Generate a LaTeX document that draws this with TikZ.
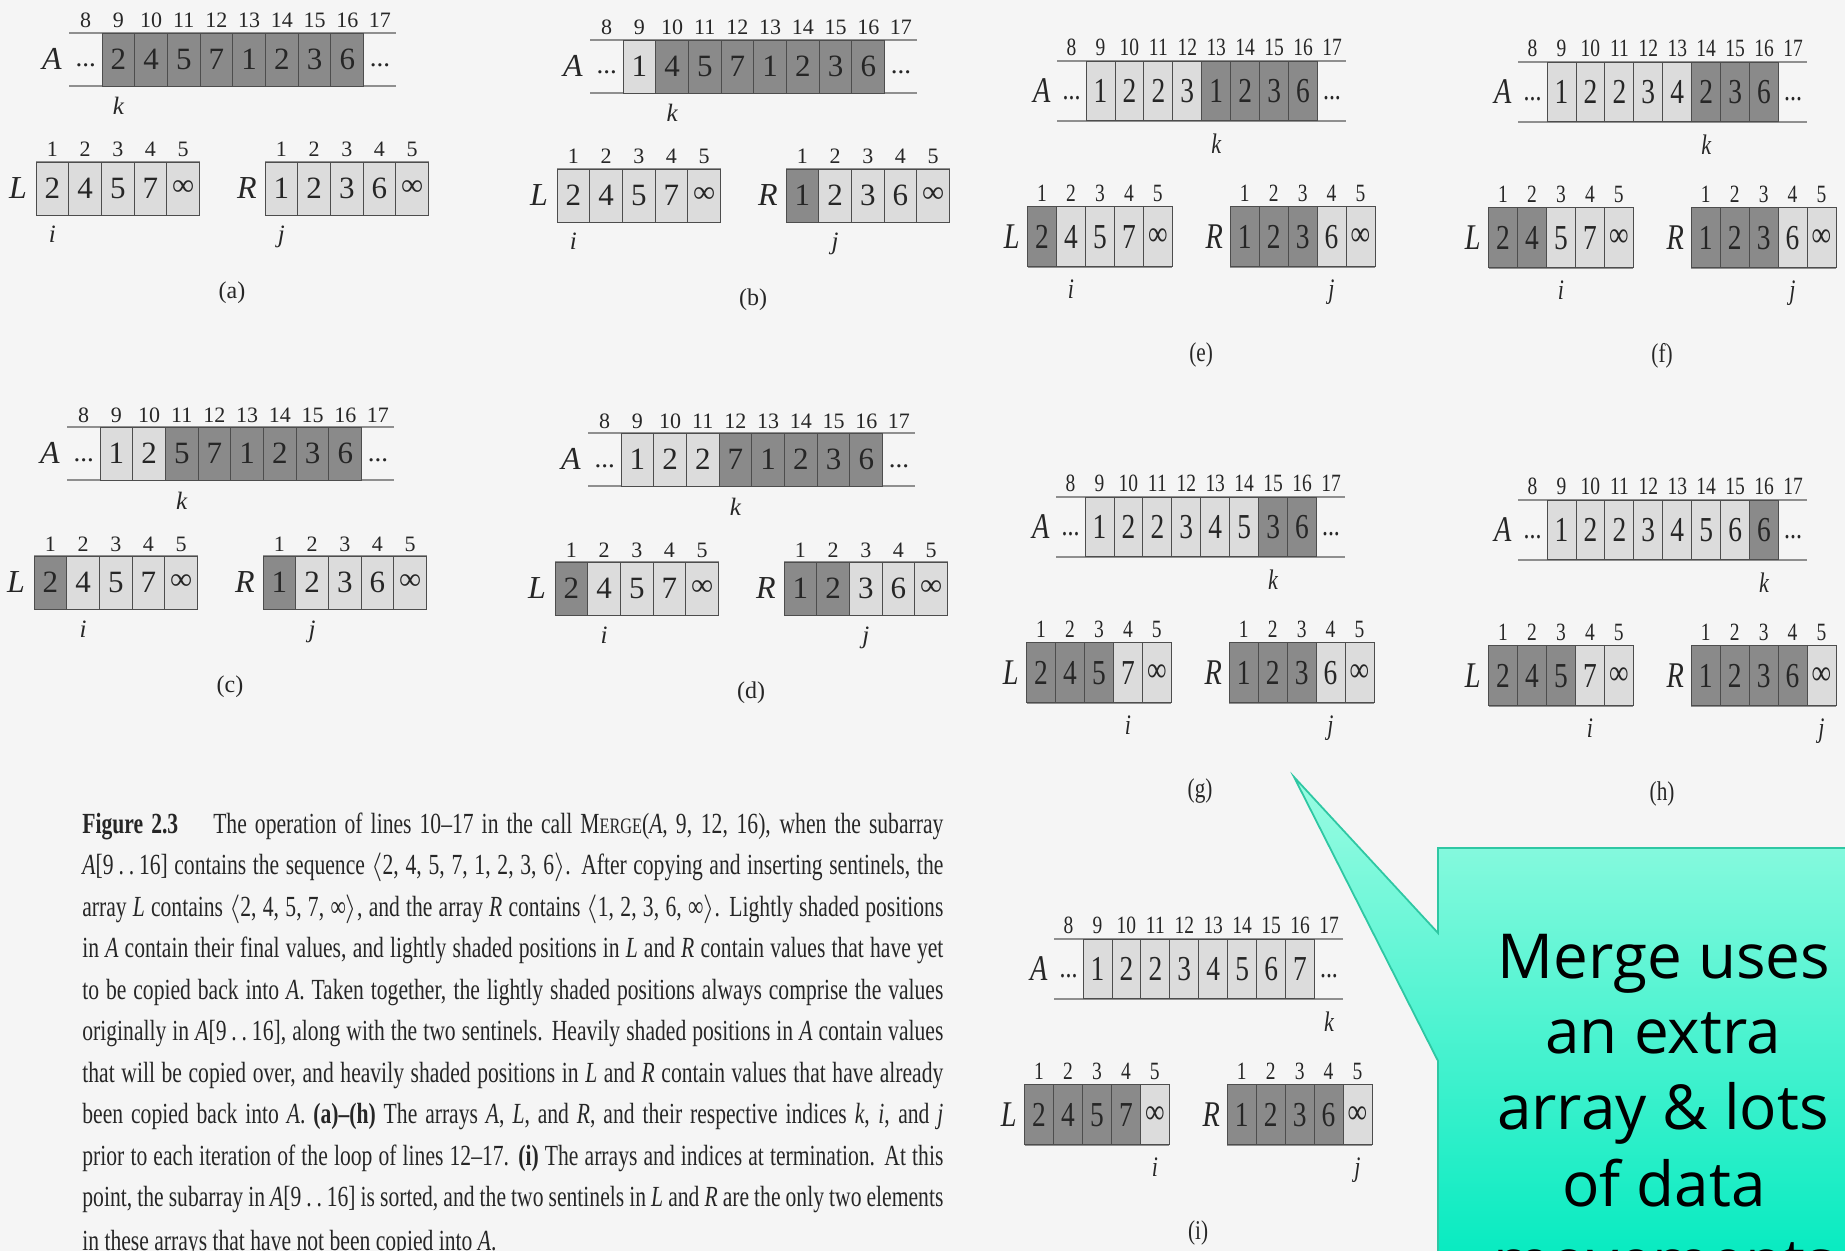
\documentclass[tikz,border=0pt]{standalone}
\usepackage{fontspec}
\setmainfont{Liberation Serif}
\newfontfamily\capfont[FakeStretch=0.74]{Liberation Serif}
\newfontfamily\bubblefont{Open Sans}
\definecolor{bgc}{HTML}{F5F5F5}
\definecolor{darkc}{HTML}{8A8A8A}
\definecolor{lightc}{HTML}{DCDCDC}
\definecolor{edgec}{HTML}{4D4D4D}
\definecolor{railc}{HTML}{8F8F8F}
\definecolor{inkc}{HTML}{262626}
\definecolor{calltop}{HTML}{9AFCE2}
\definecolor{callbot}{HTML}{00EABF}
\definecolor{calledge}{HTML}{2FC7A3}
\tikzset{
 cellbox/.style={draw=edgec, line width=0.45pt, minimum width=16.35pt, minimum height=26.5pt, inner sep=0pt, text=inkc, font=\fontsize{15.5}{16}\selectfont},
 idxnum/.style={inner sep=0pt, anchor=base, text=inkc, font=\fontsize{11}{11}\selectfont},
 arrname/.style={inner sep=0pt, text=inkc, font=\fontsize{16}{16}\selectfont\itshape},
 ptr/.style={inner sep=0pt, anchor=base, text=inkc, font=\fontsize{12.5}{13}\selectfont\itshape},
 dotsl/.style={inner sep=0pt, anchor=base, text=inkc, font=\fontsize{13.5}{14}\selectfont},
 plabel/.style={inner sep=0pt, text=inkc, font=\fontsize{12}{12}\selectfont},
 rail/.style={draw=railc, line width=1.1pt},
 capline/.style={inner sep=0pt, anchor=base west, text=inkc, font=\capfont\fontsize{14.6}{15}\selectfont},
 callout/.style={draw=calledge, line width=0.9pt, top color=calltop, bottom color=callbot},
 bubbletext/.style={inner sep=0pt, anchor=base, text=black, font=\bubblefont\fontsize{31}{31}\selectfont},
}
% #1 name, #2 origin, #3 xscale, #4 yscale, #5 A values, #6 light count in A, #7 dark in L, #8 dark in R
\newcommand\mkpanel[8]{%
\begin{scope}[shift={(#2)}, xscale=#3, yscale=#4, transform shape]
 \draw[rail] (-32.7,0) -- (294.3,0);
 \draw[rail] (-32.7,53) -- (294.3,53);
 \draw[rail] (-66,129) -- (97.5,129);
 \draw[rail] (-66,182) -- (97.5,182);
 \draw[rail] (163,129) -- (326.5,129);
 \draw[rail] (163,182) -- (326.5,182);
 \foreach \v [count=\c] in {#5} {
   \ifnum\c>#6\relax\def\fc{darkc}\else\def\fc{lightc}\fi
   \node[cellbox, fill=\fc] (#1A\c) at ({(\c-0.5)*32.7},26.5) {\v};
 }
 \foreach \v [count=\c] in {2,4,5,7,∞} {
   \ifnum\c>#7\relax\def\fc{lightc}\else\def\fc{darkc}\fi
   \node[cellbox, fill=\fc] (#1L\c) at ({-66+(\c-0.5)*32.7},155.5) {\v};
 }
 \foreach \v [count=\c] in {1,2,3,6,∞} {
   \ifnum\c>#8\relax\def\fc{lightc}\else\def\fc{darkc}\fi
   \node[cellbox, fill=\fc] (#1R\c) at ({163+(\c-0.5)*32.7},155.5) {\v};
 }
 \foreach \n [count=\c] in {8,...,17} {
   \node[idxnum] (#1Ai\c) at ({(\c-1.5)*32.7},-5) {\n};
 }
 \foreach \c in {1,...,5} {
   \node[idxnum] (#1Li\c) at ({-66+(\c-0.5)*32.7},124) {\c};
   \node[idxnum] (#1Ri\c) at ({163+(\c-0.5)*32.7},124) {\c};
 }
 \node[arrname] (#1An) at (-50,26) {A};
 \node[arrname] (#1Ln) at (-84,155.5) {L};
 \node[arrname] (#1Rn) at (145,155.5) {R};
 \node[dotsl] (#1dl) at (-16.35,34) {...};
 \node[dotsl] (#1dr) at (277.95,34) {...};
 \node[ptr] (#1k) at ({(#6+0.5)*32.7},82) {k};
 \node[ptr] (#1i) at ({-66+(#7+0.5)*32.7},210) {i};
 \node[ptr] (#1j) at ({163+(#8+0.5)*32.7},210) {j};
 \node[plabel] (#1lab) at (130,260) {(#1)};
\end{scope}}
\newcommand\capl[1]{\hbox to 430.5pt{#1}}
\begin{document}
\begin{tikzpicture}[x=0.5pt,y=-0.5pt]
\useasboundingbox (0,0) rectangle (1845,1251);
\fill[bgc] (0,0) rectangle (1845,1251);
\clip (0,0) rectangle (1845,1251);

\mkpanel{a}{102,33}{1}{1}{2,4,5,7,1,2,3,6}{0}{0}{0}
\mkpanel{b}{623,40}{1}{1}{1,4,5,7,1,2,3,6}{1}{0}{1}
\mkpanel{c}{100,427}{1}{1}{1,2,5,7,1,2,3,6}{2}{1}{1}
\mkpanel{d}{621,433}{1}{1}{1,2,2,7,1,2,3,6}{3}{1}{2}
\mkpanel{e}{1086,61}{0.885}{1.13}{1,2,2,3,1,2,3,6}{4}{1}{3}
\mkpanel{f}{1547,62}{0.885}{1.13}{1,2,2,3,4,2,3,6}{5}{2}{3}
\mkpanel{g}{1085,497}{0.885}{1.13}{1,2,2,3,4,5,3,6}{6}{3}{3}
\mkpanel{h}{1547,500}{0.885}{1.13}{1,2,2,3,4,5,6,6}{7}{3}{4}
\mkpanel{i}{1083,939}{0.885}{1.13}{1,2,2,3,4,5,6,7}{8}{4}{4}

% caption
\node[capline] (cap1) at (82,833) {\capl{\textbf{Figure 2.3}\hskip 0.9em plus 0.3em The operation of lines 10–17 in the call M{\fontsize{11}{11}\selectfont ERGE}(\textit{A}, 9, 12, 16), when the subarray}};
\node[capline] (cap2) at (82,874.5) {\capl{\textit{A}[9\,.\,.\,16] contains the sequence $\langle$2, 4, 5, 7, 1, 2, 3, 6$\rangle$. After copying and inserting sentinels, the}};
\node[capline] (cap3) at (82,916) {\capl{array \textit{L} contains $\langle$2, 4, 5, 7, ∞$\rangle$, and the array \textit{R} contains $\langle$1, 2, 3, 6, ∞$\rangle$. Lightly shaded positions}};
\node[capline] (cap4) at (82,957.5) {\capl{in \textit{A} contain their final values, and lightly shaded positions in \textit{L} and \textit{R} contain values that have yet}};
\node[capline] (cap5) at (82,999) {\capl{to be copied back into \textit{A}. Taken together, the lightly shaded positions always comprise the values}};
\node[capline] (cap6) at (82,1040.5) {\capl{originally in \textit{A}[9\,.\,.\,16], along with the two sentinels. Heavily shaded positions in \textit{A} contain values}};
\node[capline] (cap7) at (82,1082) {\capl{that will be copied over, and heavily shaded positions in \textit{L} and \textit{R} contain values that have already}};
\node[capline] (cap8) at (82,1123.5) {\capl{been copied back into \textit{A}. \textbf{(a)–(h)} The arrays \textit{A}, \textit{L}, and \textit{R}, and their respective indices \textit{k}, \textit{i}, and \textit{j}}};
\node[capline] (cap9) at (82,1165) {\capl{prior to each iteration of the loop of lines 12–17. \textbf{(i)} The arrays and indices at termination. At this}};
\node[capline] (cap10) at (82,1206.5) {\capl{point, the subarray in \textit{A}[9\,.\,.\,16] is sorted, and the two sentinels in \textit{L} and \textit{R} are the only two elements}};
\node[capline] (cap11) at (82,1250) {in these arrays that have not been copied into \textit{A}.};

% callout
\path[callout] (1438,848) -- (1870,848) -- (1870,1280) -- (1438,1280) -- (1438,1061) -- (1294,777) -- (1438,933) -- cycle;
\node[bubbletext] (m1) at (1664,978) {Merge uses};
\node[bubbletext] (m2) at (1663,1053) {an extra};
\node[bubbletext] (m3) at (1663,1129) {array \& lots};
\node[bubbletext] (m4) at (1664,1206) {of data};
\node[bubbletext] (m5) at (1664,1283) {movements};
\end{tikzpicture}
\end{document}
